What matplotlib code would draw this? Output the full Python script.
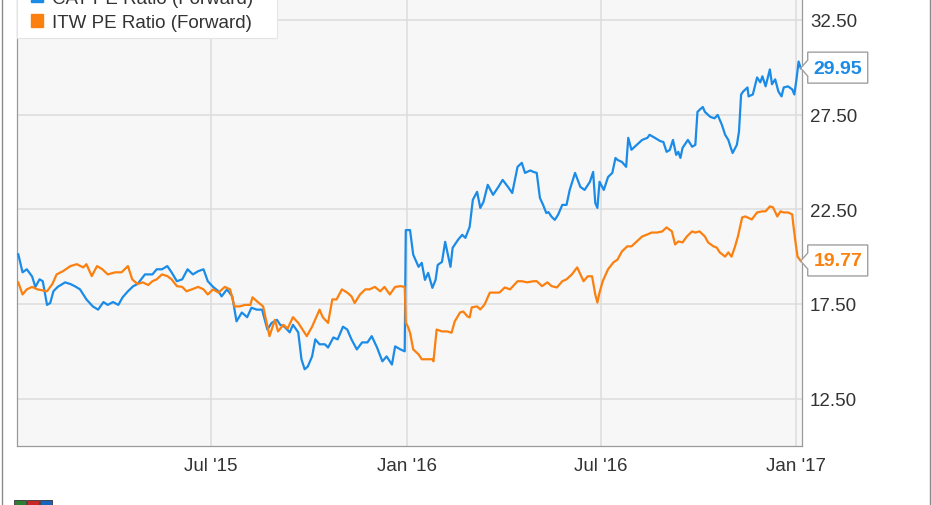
import matplotlib
matplotlib.use('Agg')
import matplotlib.pyplot as plt
import matplotlib.dates as mdates
import matplotlib.transforms as mtransforms
from matplotlib.patches import Patch, Rectangle, Polygon
from matplotlib.lines import Line2D
import pandas as pd

plt.rcParams['font.family'] = ['Liberation Sans', 'DejaVu Sans']

BLUE = '#1b8be8'
ORANGE = '#fb800f'

series_labels = ['CAT PE Ratio (Forward)', 'ITW PE Ratio (Forward)']
y_ticks = [12.5, 17.5, 22.5, 27.5, 32.5]
x_ticks = ['2015-07-01', '2016-01-01', '2016-07-01', '2017-01-01']
x_tick_labels = ["Jul '15", "Jan '16", "Jul '16", "Jan '17"]

# blue series
cat_dates = [
    '2015-01-01', '2015-01-05', '2015-01-09', '2015-01-14', '2015-01-17', '2015-01-21',
    '2015-01-24', '2015-01-28', '2015-01-31', '2015-02-03', '2015-02-07', '2015-02-14',
    '2015-02-19', '2015-02-23', '2015-02-28', '2015-03-06', '2015-03-12', '2015-03-17',
    '2015-03-22', '2015-03-26', '2015-03-31', '2015-04-05', '2015-04-09', '2015-04-14',
    '2015-04-19', '2015-04-23', '2015-04-30', '2015-05-07', '2015-05-11', '2015-05-16',
    '2015-05-21', '2015-05-25', '2015-05-30', '2015-06-04', '2015-06-09', '2015-06-14',
    '2015-06-19', '2015-06-24', '2015-06-28', '2015-07-03', '2015-07-08', '2015-07-11',
    '2015-07-16', '2015-07-21', '2015-07-25', '2015-07-30', '2015-08-04', '2015-08-08',
    '2015-08-13', '2015-08-18', '2015-08-23', '2015-08-27', '2015-09-01', '2015-09-04',
    '2015-09-08', '2015-09-13', '2015-09-16', '2015-09-21', '2015-09-24', '2015-09-27',
    '2015-09-30', '2015-10-04', '2015-10-07', '2015-10-11', '2015-10-16', '2015-10-19',
    '2015-10-24', '2015-10-28', '2015-11-02', '2015-11-06', '2015-11-10', '2015-11-15',
    '2015-11-20', '2015-11-25', '2015-11-29', '2015-12-04', '2015-12-09', '2015-12-13',
    '2015-12-18', '2015-12-21', '2015-12-26', '2015-12-30', '2015-12-31', '2016-01-04',
    '2016-01-07', '2016-01-12', '2016-01-15', '2016-01-18', '2016-01-21', '2016-01-25',
    '2016-01-28', '2016-01-30', '2016-02-03', '2016-02-06', '2016-02-11', '2016-02-13',
    '2016-02-18', '2016-02-22', '2016-02-25', '2016-02-29', '2016-03-03', '2016-03-07',
    '2016-03-10', '2016-03-13', '2016-03-17', '2016-03-22', '2016-03-27', '2016-03-31',
    '2016-04-05', '2016-04-09', '2016-04-14', '2016-04-18', '2016-04-21', '2016-04-26',
    '2016-04-29', '2016-05-02', '2016-05-05', '2016-05-08', '2016-05-11', '2016-05-13',
    '2016-05-16', '2016-05-19', '2016-05-22', '2016-05-26', '2016-05-30', '2016-06-02',
    '2016-06-07', '2016-06-12', '2016-06-16', '2016-06-21', '2016-06-24', '2016-06-26',
    '2016-06-28', '2016-06-30', '2016-07-04', '2016-07-08', '2016-07-12', '2016-07-15',
    '2016-07-17', '2016-07-21', '2016-07-25', '2016-07-27', '2016-07-30', '2016-08-04',
    '2016-08-09', '2016-08-14', '2016-08-16', '2016-08-21', '2016-08-26', '2016-08-29',
    '2016-09-01', '2016-09-04', '2016-09-07', '2016-09-10', '2016-09-12', '2016-09-14',
    '2016-09-16', '2016-09-21', '2016-09-25', '2016-09-28', '2016-09-30', '2016-10-02',
    '2016-10-05', '2016-10-07', '2016-10-12', '2016-10-16', '2016-10-19', '2016-10-23',
    '2016-10-26', '2016-10-29', '2016-10-31', '2016-11-02', '2016-11-06', '2016-11-08',
    '2016-11-10', '2016-11-12', '2016-11-16', '2016-11-17', '2016-11-21', '2016-11-25',
    '2016-11-28', '2016-11-30', '2016-12-03', '2016-12-07', '2016-12-09', '2016-12-12',
    '2016-12-15', '2016-12-18', '2016-12-20', '2016-12-24', '2016-12-28', '2016-12-30',
    '2017-01-01', '2017-01-03', '2017-01-05',
]
cat_values = [
    20.12, 19.17, 19.33, 18.95, 18.40, 18.80, 18.70, 17.45, 17.55, 18.17, 18.40, 18.64,
    18.55, 18.44, 18.27, 17.74, 17.37, 17.20, 17.60, 17.45, 17.60, 17.45, 17.85, 18.17,
    18.44, 18.55, 19.06, 19.06, 19.33, 19.33, 19.50, 19.17, 18.70, 18.80, 19.33, 19.06,
    19.23, 19.33, 18.70, 18.40, 18.17, 17.90, 18.27, 17.90, 16.58, 17.05, 16.80, 17.30,
    17.20, 17.20, 16.15, 16.50, 16.66, 16.40, 16.30, 16.00, 16.40, 16.00, 14.58, 14.05,
    14.20, 14.73, 15.63, 15.37, 15.37, 15.20, 15.73, 15.63, 16.30, 16.15, 15.63, 15.10,
    15.47, 15.47, 15.80, 15.20, 14.47, 14.73, 14.30, 15.26, 15.10, 15.00, 21.40, 21.40,
    20.10, 19.46, 19.67, 18.77, 19.14, 18.35, 18.77, 19.56, 19.72, 20.78, 19.46, 20.46,
    20.88, 21.15, 20.99, 21.57, 23.00, 23.42, 22.57, 22.89, 23.79, 23.26, 23.68, 24.05,
    23.68, 23.36, 24.74, 24.95, 24.42, 24.55, 24.47, 24.42, 23.10, 22.73, 22.30, 22.35,
    22.10, 21.94, 22.20, 22.73, 22.73, 23.52, 24.42, 23.68, 23.52, 23.95, 24.47, 22.83,
    22.57, 23.95, 23.52, 24.20, 24.42, 25.21, 25.10, 25.00, 24.74, 26.27, 25.64, 25.90,
    26.16, 26.27, 26.43, 26.27, 26.10, 26.05, 25.53, 25.63, 26.16, 25.37, 25.53, 25.21,
    25.74, 26.16, 25.80, 25.90, 27.64, 27.75, 27.90, 27.64, 27.38, 27.30, 27.48, 26.95,
    26.43, 26.16, 25.80, 25.47, 25.90, 26.59, 28.56, 28.72, 28.93, 28.46, 28.56, 29.46,
    29.20, 29.52, 28.99, 29.88, 29.10, 29.36, 28.72, 28.46, 28.93, 28.99, 28.83, 28.56,
    29.36, 30.30, 29.95,
]

# orange series
itw_dates = [
    '2015-01-01', '2015-01-05', '2015-01-09', '2015-01-14', '2015-01-19', '2015-01-28',
    '2015-02-02', '2015-02-06', '2015-02-12', '2015-02-19', '2015-02-25', '2015-03-03',
    '2015-03-06', '2015-03-11', '2015-03-16', '2015-03-21', '2015-03-26', '2015-04-02',
    '2015-04-08', '2015-04-14', '2015-04-18', '2015-04-23', '2015-04-28', '2015-05-03',
    '2015-05-07', '2015-05-11', '2015-05-16', '2015-05-21', '2015-05-25', '2015-05-30',
    '2015-06-04', '2015-06-08', '2015-06-13', '2015-06-19', '2015-06-24', '2015-06-28',
    '2015-07-03', '2015-07-08', '2015-07-14', '2015-07-19', '2015-07-23', '2015-07-28',
    '2015-08-02', '2015-08-07', '2015-08-09', '2015-08-14', '2015-08-19', '2015-08-25',
    '2015-08-30', '2015-09-02', '2015-09-07', '2015-09-11', '2015-09-16', '2015-09-21',
    '2015-09-25', '2015-09-29', '2015-10-04', '2015-10-09', '2015-10-11', '2015-10-14',
    '2015-10-19', '2015-10-23', '2015-10-27', '2015-11-01', '2015-11-06', '2015-11-10',
    '2015-11-13', '2015-11-18', '2015-11-23', '2015-11-27', '2015-12-02', '2015-12-07',
    '2015-12-11', '2015-12-16', '2015-12-21', '2015-12-26', '2015-12-30', '2015-12-31',
    '2016-01-02', '2016-01-04', '2016-01-07', '2016-01-12', '2016-01-15', '2016-01-20',
    '2016-01-25', '2016-01-26', '2016-01-29', '2016-02-03', '2016-02-08', '2016-02-12',
    '2016-02-15', '2016-02-20', '2016-02-23', '2016-02-27', '2016-02-29', '2016-03-02',
    '2016-03-07', '2016-03-10', '2016-03-14', '2016-03-19', '2016-03-24', '2016-03-28',
    '2016-04-02', '2016-04-07', '2016-04-14', '2016-04-18', '2016-04-23', '2016-04-29',
    '2016-05-02', '2016-05-07', '2016-05-12', '2016-05-16', '2016-05-21', '2016-05-26',
    '2016-05-30', '2016-06-04', '2016-06-09', '2016-06-12', '2016-06-15', '2016-06-19',
    '2016-06-23', '2016-06-26', '2016-06-28', '2016-06-30', '2016-07-03', '2016-07-08',
    '2016-07-13', '2016-07-17', '2016-07-21', '2016-07-26', '2016-07-30', '2016-08-04',
    '2016-08-09', '2016-08-14', '2016-08-18', '2016-08-23', '2016-08-28', '2016-08-30',
    '2016-09-01', '2016-09-06', '2016-09-09', '2016-09-12', '2016-09-16', '2016-09-20',
    '2016-09-25', '2016-09-28', '2016-10-02', '2016-10-07', '2016-10-10', '2016-10-15',
    '2016-10-18', '2016-10-21', '2016-10-26', '2016-10-29', '2016-11-01', '2016-11-04',
    '2016-11-07', '2016-11-11', '2016-11-14', '2016-11-16', '2016-11-20', '2016-11-25',
    '2016-11-30', '2016-12-03', '2016-12-07', '2016-12-10', '2016-12-14', '2016-12-17',
    '2016-12-20', '2016-12-24', '2016-12-28', '2016-12-29', '2016-12-31', '2017-01-02',
    '2017-01-05',
]
itw_values = [
    18.64, 18.00, 18.27, 18.40, 18.27, 18.17, 18.55, 19.06, 19.23, 19.50, 19.60, 19.43,
    19.60, 18.97, 19.50, 19.33, 19.06, 19.17, 19.17, 19.50, 18.80, 18.55, 18.64, 18.50,
    18.70, 18.80, 19.06, 18.97, 18.80, 18.44, 18.40, 18.17, 18.27, 18.40, 18.27, 18.00,
    18.27, 18.10, 18.40, 18.27, 17.37, 17.37, 17.45, 17.45, 17.85, 17.60, 17.37, 15.80,
    16.66, 16.05, 16.40, 16.20, 16.80, 16.50, 16.15, 15.80, 16.30, 16.95, 17.20, 16.80,
    16.50, 17.74, 17.74, 18.27, 18.10, 17.90, 17.55, 18.00, 18.27, 18.27, 18.40, 18.17,
    18.40, 18.00, 18.40, 18.44, 18.40, 16.50, 16.30, 15.98, 15.10, 14.84, 14.58, 14.58,
    14.58, 14.47, 16.15, 16.05, 16.05, 15.98, 16.58, 17.05, 17.10, 16.84, 16.79, 17.32,
    17.37, 17.21, 17.47, 18.10, 18.10, 18.10, 18.37, 18.27, 18.70, 18.70, 18.64, 18.70,
    18.70, 18.44, 18.64, 18.44, 18.37, 18.70, 18.80, 19.06, 19.43, 19.06, 18.70, 18.96,
    18.96, 18.00, 17.57, 18.10, 18.70, 19.33, 19.69, 19.85, 20.27, 20.54, 20.54, 20.80,
    21.06, 21.17, 21.27, 21.27, 21.33, 21.44, 21.54, 21.33, 20.64, 20.80, 20.75, 21.06,
    21.33, 21.27, 21.33, 21.06, 20.75, 20.54, 20.48, 20.22, 20.00, 20.22, 20.00, 20.48,
    21.06, 22.07, 22.12, 22.07, 21.96, 22.33, 22.39, 22.39, 22.65, 22.60, 22.12, 22.39,
    22.33, 22.33, 22.23, 21.70, 20.80, 20.00, 19.77,
]


def add_callout(fig, ax, date, value, color):
    """Value box with a little pointer, placed at the end of a line."""
    x = mdates.date2num(pd.Timestamp(date))
    trans = fig.dpi_scale_trans + mtransforms.ScaledTranslation(x, value, ax.transData)
    px = 1 / fig.dpi
    verts = [(0, 0), (7, 8), (7, 16), (67, 16), (67, -15), (7, -15), (7, -8)]
    poly = Polygon([(a * px, b * px) for a, b in verts], closed=True, transform=trans,
                   facecolor='white', edgecolor='#a0a0a0', lw=1, clip_on=False, zorder=6)
    ax.add_patch(poly)
    ax.annotate(f'{value:.2f}', xy=(x, value), xytext=(37, 0), textcoords='offset pixels',
                ha='center', va='center', color=color, fontsize=14, fontweight='bold',
                annotation_clip=False, zorder=7)


def main():
    cat = pd.Series(cat_values, index=pd.to_datetime(cat_dates))
    itw = pd.Series(itw_values, index=pd.to_datetime(itw_dates))

    fig = plt.figure(figsize=(9.31, 5.06), dpi=100)
    ax = fig.add_axes([17 / 931, 59 / 506, 784.7 / 931, 447 / 506])
    ax.set_facecolor('#f7f7f7')

    ax.plot(cat.index, cat.values, color=BLUE, lw=1.6, zorder=3)
    ax.plot(itw.index, itw.values, color=ORANGE, lw=1.6, zorder=3)

    ax.set_xlim(pd.Timestamp('2014-12-30 19:00'), pd.Timestamp('2017-01-05 22:00'))
    ax.set_ylim(10, 10 + 447 / 18.94)

    ax.set_xticks(pd.to_datetime(x_ticks))
    ax.set_xticklabels(x_tick_labels)
    ax.set_yticks(y_ticks)
    ax.set_yticklabels([f'{t:.2f}' for t in y_ticks])
    ax.yaxis.tick_right()
    ax.tick_params(axis='both', length=0, labelsize=13.5, labelcolor='#333333')
    ax.tick_params(axis='y', pad=6)
    ax.tick_params(axis='x', pad=8)
    ax.grid(True, color='#dcdcdc', lw=1.1)
    ax.set_axisbelow(True)

    for side in ['left', 'bottom', 'right']:
        ax.spines[side].set_color('#9a9a9a')
        ax.spines[side].set_linewidth(0.9)
    ax.spines['top'].set_visible(False)

    # legend box (runs off the top of the image, as in the source)
    ax.add_patch(Rectangle((17 / 931, 1 - 39 / 506), 260 / 931, 60 / 506,
                           transform=fig.transFigure, facecolor='white',
                           edgecolor='#e4e4e4', lw=0.8, clip_on=False, zorder=4.5))
    handles = [Patch(color=BLUE), Patch(color=ORANGE)]
    ax.legend(handles, series_labels, loc='lower left',
              bbox_to_anchor=(31 / 931, 1 - 32 / 506), bbox_transform=fig.transFigure,
              frameon=False, fontsize=13.5, handlelength=0.65, handleheight=0.65,
              handletextpad=0.45, labelspacing=0.4, borderpad=0, borderaxespad=0,
              labelcolor='#333333')

    add_callout(fig, ax, cat.index[-1], cat.values[-1], BLUE)
    add_callout(fig, ax, itw.index[-1], itw.values[-1], ORANGE)

    # outer frame of the picture
    for xf in [1.5 / 931, 929.5 / 931]:
        fig.add_artist(Line2D([xf, xf], [0, 1], transform=fig.transFigure,
                              color='#8a8a8a', lw=1))

    # small logo stub at the bottom left
    for i, c in enumerate(['#2e7d32', '#c62828', '#1565c0']):
        fig.add_artist(Rectangle(((14 + i * 13) / 931, 0), 12 / 931, 5 / 506,
                                 transform=fig.transFigure, facecolor=c,
                                 edgecolor='#333333', lw=0.6))

    fig.savefig('out.png', dpi=100)


if __name__ == '__main__':
    main()
